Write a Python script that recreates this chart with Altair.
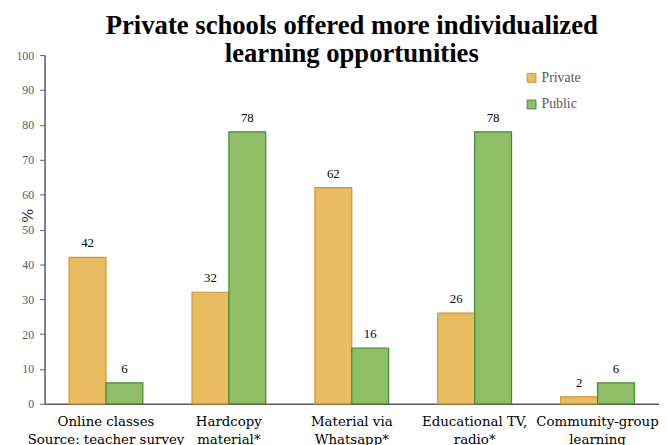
import altair as alt
import pandas as pd

categories = ["Online classes", "Hardcopy material*", "Material via Whatsapp*",
              "Educational TV, radio*", "Community-group learning"]
label_lines = {
    "Online classes": ["Online classes", "Source: teacher survey"],
    "Hardcopy material*": ["Hardcopy", "material*"],
    "Material via Whatsapp*": ["Material via", "Whatsapp*"],
    "Educational TV, radio*": ["Educational TV,", "radio*"],
    "Community-group learning": ["Community-group", "learning"],
}
series = ["Private", "Public"]
private_vals = [42, 32, 62, 26, 2]
public_vals = [6, 78, 16, 78, 6]
y_ticks = [0, 10, 20, 30, 40, 50, 60, 70, 80, 90, 100]
fill_colors = ["#E9BC62", "#8FBE67"]
stroke_colors = ["#C9982F", "#3E8B35"]

rows = []
for c, p, q in zip(categories, private_vals, public_vals):
    rows.append({"category": c, "series": "Private", "value": p})
    rows.append({"category": c, "series": "Public", "value": q})
df = pd.DataFrame(rows)

expr_parts = []
for k, v in label_lines.items():
    expr_parts.append(f"datum.value == {k!r} ? {v!r}")
label_expr = " : ".join(expr_parts) + " : datum.value"

FONT = "Liberation Serif"
XFONT = "DejaVu Serif"

x_enc = alt.X("category:N", sort=categories, title=None,
              scale=alt.Scale(paddingInner=0.4, paddingOuter=0.2),
              axis=alt.Axis(labelExpr=label_expr, labelAngle=0, ticks=False,
                            labelFontSize=13.5, labelColor="#000000", labelFont=XFONT,
                            labelPadding=11, labelLineHeight=18,
                            domainColor="#595959", domainWidth=1.5))

y_enc = alt.Y("value:Q", scale=alt.Scale(domain=[0, 100]), title="%",
              axis=alt.Axis(values=y_ticks, grid=False,
                            tickSize=5, tickColor="#595959", domainColor="#595959",
                            domainWidth=1.5, labelFont=FONT, labelFontSize=12,
                            labelColor="#595959", labelPadding=6,
                            titleFont=XFONT, titleFontSize=15, titleColor="#333333",
                            titleFontWeight="normal", titleAngle=-90,
                            titleX=-9, titleY=162))

base = alt.Chart(df).encode(
    x=x_enc,
    y=y_enc,
    xOffset=alt.XOffset("series:N", sort=series),
)

bars = base.mark_bar(strokeWidth=1.2).encode(
    fill=alt.Fill("series:N", sort=series,
                  scale=alt.Scale(domain=series, range=fill_colors),
                  legend=alt.Legend(title=None, orient="none", legendX=486, legendY=16,
                                    symbolType="square", symbolSize=80,
                                    symbolStrokeWidth=1, rowPadding=13,
                                    labelFont=FONT, labelFontSize=14,
                                    labelColor="#595959", labelOffset=3)),
    stroke=alt.Stroke("series:N", sort=series,
                      scale=alt.Scale(domain=series, range=stroke_colors),
                      legend=None),
)

labels = base.mark_text(dy=-14, baseline="middle", font=FONT, fontSize=13,
                        color="#000000").encode(
    text=alt.Text("value:Q"),
)

chart = alt.layer(bars, labels).properties(
    width=622, height=353,
    title=alt.TitleParams(
        text=["Private schools offered more individualized", "learning opportunities"],
        font=FONT, fontSize=27, fontWeight="bold", color="#000000",
        anchor="middle", lineHeight=28, offset=-19),
    autosize=alt.AutoSizeParams(type="none"),
    padding={"left": 37, "top": 45, "right": 0, "bottom": 39},
).configure_view(stroke=None)

chart.save("out.html", embed_options={"renderer": "svg", "actions": False})
